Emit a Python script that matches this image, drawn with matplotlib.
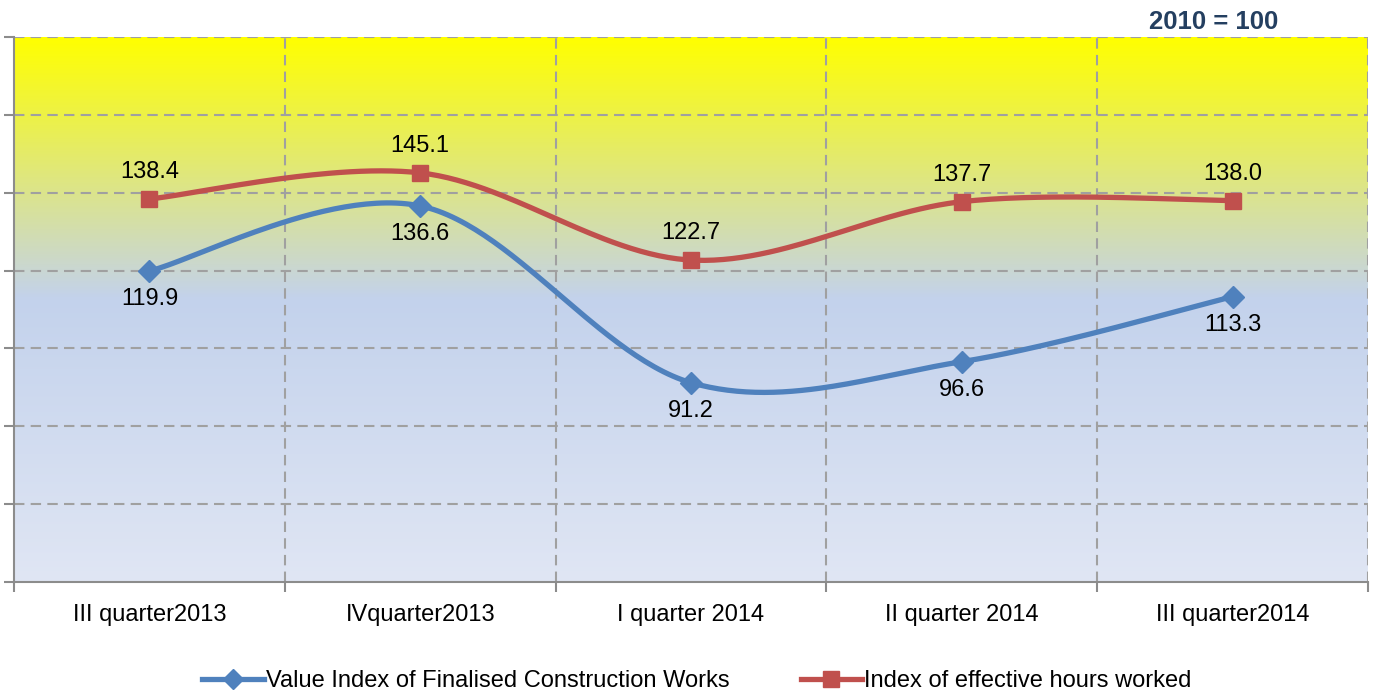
import numpy as np
import matplotlib.pyplot as plt
from matplotlib.colors import LinearSegmentedColormap
from matplotlib.lines import Line2D

plt.rcParams['font.family'] = ['Liberation Sans', 'DejaVu Sans']

# Data
categories = ['III quarter2013', 'IVquarter2013', 'I quarter 2014', 'II quarter 2014', 'III quarter2014']
value_index = [119.9, 136.6, 91.2, 96.6, 113.3]
hours_index = [138.4, 145.1, 122.7, 137.7, 138.0]
series_names = ['Value Index of Finalised Construction Works', 'Index of effective hours worked']

blue = '#4F81BD'
red = '#C0504D'


def smooth(xs, ys, yscale, n=60):
    # Catmull-Rom style smoothing (like Excel's smoothed line)
    xs = np.asarray(xs, float)
    ys = np.asarray(ys, float) * yscale
    P = np.column_stack([xs, ys])
    P = np.vstack([P[0], P, P[-1]])
    out = []
    for i in range(1, len(P) - 2):
        p0, p1, p2, p3 = P[i - 1], P[i], P[i + 1], P[i + 2]
        c1 = p1 + (p2 - p0) / 6
        c2 = p2 - (p3 - p1) / 6
        t = np.linspace(0, 1, n)[:, None]
        seg = (1 - t) ** 3 * p1 + 3 * (1 - t) ** 2 * t * c1 + 3 * (1 - t) * t ** 2 * c2 + t ** 3 * p2
        out.append(seg if i == 1 else seg[1:])
    out = np.vstack(out)
    return out[:, 0], out[:, 1] / yscale


fig = plt.figure(figsize=(13.76, 6.93), dpi=100)
ax = fig.add_axes([14 / 1376, 111 / 693, 1354 / 1376, 545 / 693])

x = np.arange(len(categories))
ax.set_xlim(-0.5, 4.5)
ax.set_ylim(40, 180)

# gradient background
cmap = LinearSegmentedColormap.from_list('bg', [(0, '#FFFF00'), (0.48, '#C3D2EC'), (1, '#E0E6F4')])
grad = np.linspace(0, 1, 256)[:, None]
ax.imshow(grad, cmap=cmap, aspect='auto', extent=[-0.5, 4.5, 40, 180], zorder=0, origin='upper')

# grid
for yv in range(60, 181, 20):
    ax.axhline(yv, color='#A0A0A0', lw=1.5, ls=(0, (5, 3)), zorder=1)
for xv in np.arange(0.5, 4.6, 1):
    ax.axvline(xv, color='#A0A0A0', lw=1.5, ls=(0, (5, 3)), zorder=1)

yscale = (78 / 20) / 271
sx, sy = smooth(x, value_index, yscale)
ax.plot(sx, sy, color=blue, lw=3.8, zorder=3, solid_capstyle='round')
ax.plot(x, value_index, ls='none', marker='D', ms=11, color=blue, zorder=4)
sx, sy = smooth(x, hours_index, yscale)
ax.plot(sx, sy, color=red, lw=3.8, zorder=3, solid_capstyle='round')
ax.plot(x, hours_index, ls='none', marker='s', ms=12, color=red, zorder=4)

for xi, v in zip(x, value_index):
    ax.annotate(f'{v:.1f}', (xi, v), xytext=(0, -28), textcoords='offset pixels',
                ha='center', va='center', fontsize=17, color='black', zorder=5)
for xi, v in zip(x, hours_index):
    ax.annotate(f'{v:.1f}', (xi, v), xytext=(0, 27), textcoords='offset pixels',
                ha='center', va='center', fontsize=17, color='black', zorder=5)

# axes styling
for s in ['top', 'right']:
    ax.spines[s].set_visible(False)
for s in ['left', 'bottom']:
    ax.spines[s].set_color('#8C8C8C')
    ax.spines[s].set_linewidth(1.5)
ax.set_yticks(range(40, 181, 20))
ax.set_yticklabels([])
ax.tick_params(axis='y', length=7, width=1.5, color='#8C8C8C')
ax.set_xticks(np.arange(-0.5, 4.6, 1))
ax.set_xticklabels([])
ax.set_xticks(x, minor=True)
ax.set_xticklabels(categories, minor=True, fontsize=17)
ax.tick_params(axis='x', which='major', length=7, width=1.5, color='#8C8C8C')
ax.tick_params(axis='x', which='minor', length=0, pad=16)

fig.text(1214 / 1376, 1 - 22 / 693, '2010 = 100', ha='center', va='center',
         fontsize=18.5, fontweight='bold', color='#243F60')

handles = [Line2D([], [], color=blue, lw=3.8, marker='D', ms=10),
           Line2D([], [], color=red, lw=3.8, marker='s', ms=11)]
fig.legend(handles, series_names, loc='center', bbox_to_anchor=(0.5 + 9 / 1376, 1 - 681 / 693), ncol=2,
           frameon=False, fontsize=17, handlelength=2.6, handletextpad=0.1, columnspacing=3.0)

fig.savefig('out.png', dpi=100)
